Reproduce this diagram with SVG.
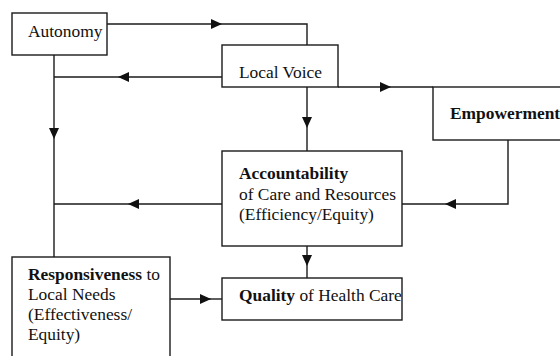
<svg xmlns="http://www.w3.org/2000/svg" width="560" height="356" viewBox="0 0 560 356">
  <style>
    .box { fill: #fff; stroke: #1a1a1a; stroke-width: 1.4; }
    .conn { fill: none; stroke: #1a1a1a; stroke-width: 1.4; }
    .arr { marker-end: url(#ah); }
    text { font-family: "Liberation Serif", "Times New Roman", serif; font-size: 17.4px; fill: #111; }
    .b { font-weight: bold; }
  </style>
  <defs>
    <marker id="ah" viewBox="0 0 11 10" refX="11" refY="5" markerWidth="11" markerHeight="10" markerUnits="userSpaceOnUse" orient="auto">
      <path d="M0,0 L11,5 L0,10 z" fill="#111"/>
    </marker>
    <clipPath id="qclip"><rect x="222" y="278" width="180" height="42"/></clipPath>
  </defs>
  <rect width="560" height="356" fill="#fff"/>

  <g id="connectors">
    <path class="conn arr" d="M107,24 H222"/>
    <path class="conn" d="M222,24 H307 V45"/>
    <path class="conn arr" d="M222,77 H118"/>
    <path class="conn" d="M118,77 H54"/>
    <path class="conn arr" d="M54,55 V139"/>
    <path class="conn" d="M54,139 V257"/>
    <path class="conn arr" d="M307,87 V128"/>
    <path class="conn" d="M307,128 V151"/>
    <path class="conn arr" d="M338,87 H391"/>
    <path class="conn" d="M391,87 H433"/>
    <path class="conn arr" d="M508,140 V204 H445"/>
    <path class="conn" d="M445,204 H402"/>
    <path class="conn arr" d="M222,204 H128"/>
    <path class="conn" d="M128,204 H54"/>
    <path class="conn arr" d="M307,246 V266"/>
    <path class="conn" d="M307,266 V278"/>
    <path class="conn arr" d="M170,299 H211"/>
    <path class="conn" d="M211,299 H222"/>
  </g>

  <g id="autonomy">
    <rect class="box" x="12" y="13" width="95" height="42"/>
    <text x="28" y="37">Autonomy</text>
  </g>

  <g id="local-voice">
    <rect class="box" x="222" y="45" width="116" height="42"/>
    <text x="239" y="78">Local Voice</text>
  </g>

  <g id="empowerment">
    <rect class="box" x="433" y="87" width="140" height="53"/>
    <text class="b" x="450" y="119">Empowerment</text>
  </g>

  <g id="accountability">
    <rect class="box" x="222" y="151" width="180" height="95"/>
    <text class="b" x="239" y="179">Accountability</text>
    <text x="239" y="200">of Care and Resources</text>
    <text x="239" y="220">(Efficiency/Equity)</text>
  </g>

  <g id="quality">
    <rect class="box" x="222" y="278" width="180" height="42"/>
    <text x="239" y="301" clip-path="url(#qclip)"><tspan class="b">Quality</tspan> of Health Care</text>
  </g>

  <g id="responsiveness">
    <rect class="box" x="12" y="257" width="158" height="110"/>
    <text x="28" y="280"><tspan class="b">Responsiveness</tspan> to</text>
    <text x="28" y="300">Local Needs</text>
    <text x="28" y="320">(Effectiveness/</text>
    <text x="28" y="340">Equity)</text>
  </g>
</svg>
